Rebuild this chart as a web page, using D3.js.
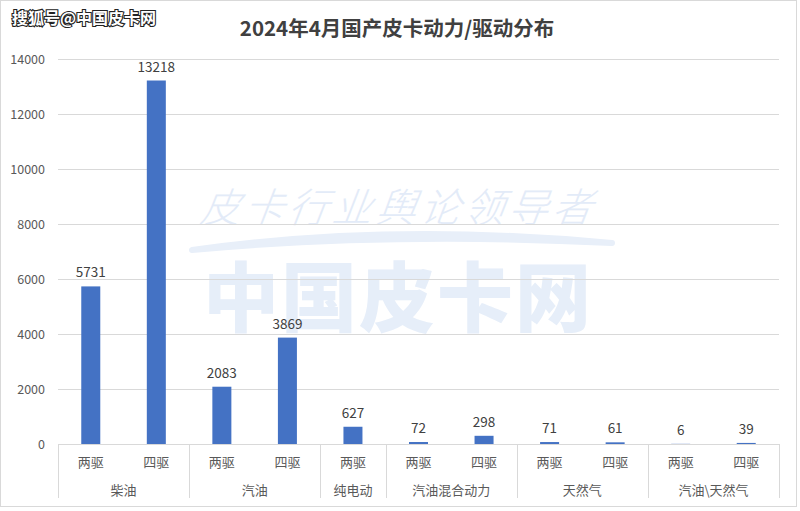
<!DOCTYPE html>
<html><head><meta charset="utf-8">
<script src="https://cdn.jsdelivr.net/npm/d3@7"></script>
<style>body{margin:0;background:#fff}svg{display:block}</style>
</head><body>
<svg id="c" width="800" height="511"></svg>
<script>
const groups = ["柴油","汽油","纯电动","汽油混合动力","天然气","汽油\\天然气"];
const drives = [["两驱","四驱"],["两驱","四驱"],["两驱"],["两驱","四驱"],["两驱","四驱"],["两驱","四驱"]];
const values = [[5731,13218],[2083,3869],[627],[72,298],[71,61],[6,39]];
const yTicks = [0,2000,4000,6000,8000,10000,12000,14000];
const title = "2024年4月国产皮卡动力/驱动分布";

(function(){
const font = "'Noto Sans CJK SC','Microsoft YaHei',sans-serif";
const svg = d3.select("#c");
const W = 800, H = 511;
svg.append("rect").attr("x",0.5).attr("y",0.5).attr("width",W-4).attr("height",H-5)
  .attr("fill","#fff").attr("stroke","#d9d9d9");

const rows = [];
groups.forEach((g,gi)=>drives[gi].forEach((d,di)=>rows.push({g,gi,d,v:values[gi][di],key:gi+"-"+di})));

const pLeft = 58, pRight = 779, pTop = 59, pBottom = 444;
const x = d3.scaleBand().domain(rows.map(r=>r.key)).range([pLeft,pRight]).paddingInner(0.71).paddingOuter(0.355);
const y = d3.scaleLinear().domain([0,14000]).range([pBottom,pTop]);

// watermark
const wm = svg.append("g").attr("pointer-events","none");
wm.append("text").attr("x",398).attr("y",222).attr("text-anchor","middle")
  .attr("font-family","'Noto Sans CJK SC',sans-serif").attr("font-size",40).attr("font-weight",300)
  .attr("font-style","italic").attr("fill","#e3ebf8").attr("letter-spacing",4)
  .attr("transform","skewX(-8) translate(30,0)")
  .text("皮卡行业舆论领导者");
wm.append("path").attr("d","M192,250 Q390,222 612,243 Q390,232 192,250 Z")
  .attr("fill","#e8eff9").attr("stroke","#e8eff9").attr("stroke-width",6).attr("stroke-linejoin","round");
wm.append("text").attr("x",398).attr("y",326).attr("text-anchor","middle")
  .attr("font-family","'Noto Sans CJK SC',sans-serif").attr("font-size",76).attr("font-weight",900)
  .attr("fill","#e6eef9").attr("letter-spacing",2).text("中国皮卡网");

// gridlines
svg.append("g").selectAll("line").data(yTicks).join("line")
  .attr("x1",pLeft).attr("x2",pRight).attr("y1",d=>Math.round(y(d))+0.5).attr("y2",d=>Math.round(y(d))+0.5)
  .attr("stroke","#d9d9d9").attr("stroke-width",1);

// y axis labels
const yAxis = d3.axisLeft(y).tickValues(yTicks).tickSize(0).tickPadding(13).tickFormat(d3.format("d"));
const yg = svg.append("g").attr("transform",`translate(${pLeft},0)`).call(yAxis);
yg.select(".domain").remove();
yg.selectAll("text").attr("font-family",font).attr("font-size",12.5).attr("fill","#595959");

// bars
svg.append("g").selectAll("rect").data(rows).join("rect")
  .attr("x",d=>x(d.key)).attr("width",x.bandwidth())
  .attr("y",d=>y(d.v)).attr("height",d=>pBottom-y(d.v)).attr("fill","#4472c4");

// value labels
svg.append("g").selectAll("text").data(rows).join("text")
  .attr("x",d=>x(d.key)+x.bandwidth()/2).attr("y",d=>y(d.v)-9)
  .attr("text-anchor","middle").attr("font-family",font).attr("font-size",13.5).attr("fill","#404040")
  .text(d=>d.v);

// category axis
const ax = svg.append("g");
const boxBottom = 498;
ax.append("line").attr("x1",pLeft).attr("x2",pRight).attr("y1",pBottom+0.5).attr("y2",pBottom+0.5).attr("stroke","#d9d9d9");
const bounds = [pLeft];
let acc = 0;
groups.forEach((g,gi)=>{acc += drives[gi].length; bounds.push(pLeft + (pRight-pLeft)*acc/rows.length);});
ax.selectAll("line.b").data(bounds).join("line").attr("class","b")
  .attr("x1",d=>Math.round(d)+0.5).attr("x2",d=>Math.round(d)+0.5).attr("y1",pBottom).attr("y2",boxBottom)
  .attr("stroke","#d9d9d9");
ax.selectAll("text.d").data(rows).join("text").attr("class","d")
  .attr("x",d=>x(d.key)+x.bandwidth()/2).attr("y",467).attr("text-anchor","middle")
  .attr("font-family",font).attr("font-size",13).attr("fill","#595959").text(d=>d.d);
ax.selectAll("text.g").data(groups).join("text").attr("class","g")
  .attr("x",(d,i)=>(bounds[i]+bounds[i+1])/2).attr("y",495).attr("text-anchor","middle")
  .attr("font-family",font).attr("font-size",13).attr("fill","#595959").text(d=>d);

// title
svg.append("text").attr("x",397).attr("y",36).attr("text-anchor","middle")
  .attr("font-family",font).attr("font-size",20.5).attr("font-weight",700).attr("fill","#404040").text(title);

// corner watermark
svg.append("text").attr("x",12).attr("y",24)
  .attr("font-family",font).attr("font-size",16).attr("font-weight",700)
  .attr("fill","#fff").attr("stroke","#222").attr("stroke-width",2.2).attr("paint-order","stroke")
  .text("搜狐号@中国皮卡网");
})();
</script>
</body></html>
